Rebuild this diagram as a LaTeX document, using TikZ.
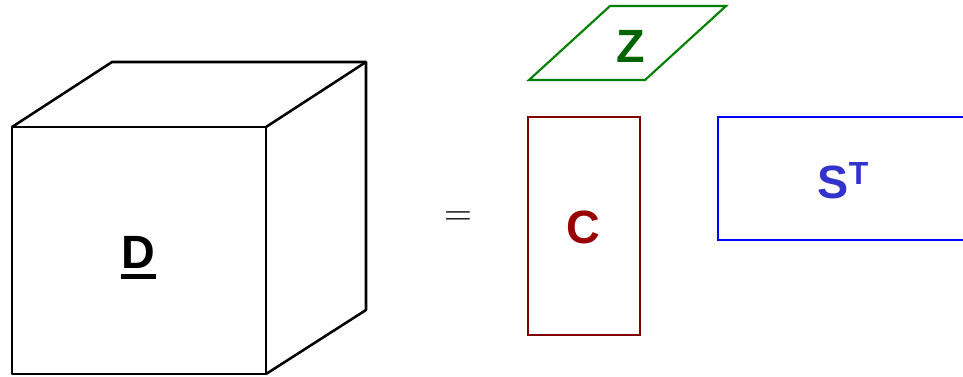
\RequirePackage{fix-cm}
\documentclass[tikz,border=0pt]{standalone}
\usepackage{fontspec}
\setmainfont{Liberation Sans}
\usetikzlibrary{positioning}
\definecolor{zline}{RGB}{0,128,0}
\definecolor{ztext}{RGB}{0,100,0}
\definecolor{cline}{RGB}{128,0,0}
\definecolor{ctext}{RGB}{153,0,0}
\definecolor{sline}{RGB}{0,0,255}
\definecolor{stext}{RGB}{51,51,204}

\begin{document}
\begin{tikzpicture}[
    x=0.75pt, y=-0.75pt,
    cube/.style={line width=1.9pt, line join=round},
    factor/.style={line width=1.6pt, line join=miter},
    letter/.style={inner sep=0pt, anchor=base, font=\fontsize{35}{40}\selectfont\bfseries}
]
\useasboundingbox (0,0) rectangle (963,376);
\clip (0,0) rectangle (963,376);

% data tensor D
\draw[cube] (12,127) rectangle (266,374);
\draw[cube] (12,127) -- ++(100,-65) -- ++(254,0) -- ++(0,248) -- (266,374);
\draw[cube] (266,127) -- ++(100,-65);
\node[letter] (dlbl) at (138.5,268) {D};
\draw[line width=3.75pt] ([yshift=-6.4pt]dlbl.south west) -- ([yshift=-6.4pt]dlbl.south east);

\node[inner sep=0pt, anchor=base, font=\fontsize{29}{30}\selectfont] (eq) at (458,225) {$=$};

% factors
\draw[factor, zline] (529,80) -- (645,80) -- (726,6) -- (610,6) -- cycle;
\node[letter, text=ztext] (zlbl) at (631,62) {Z};

\draw[factor, cline] (528,117) rectangle (640,335);
\node[letter, text=ctext] (clbl) at (583.5,243.5) {C};

\draw[factor, sline, line width=1.9pt] (980,117) -- (718,117) -- (718,240) -- (980,240);
\node[letter, text=stext, anchor=base west] (slbl) at (817.5,198)
    {S\raisebox{10.5pt}{\fontsize{24}{24}\selectfont T}};

\end{tikzpicture}
\end{document}
